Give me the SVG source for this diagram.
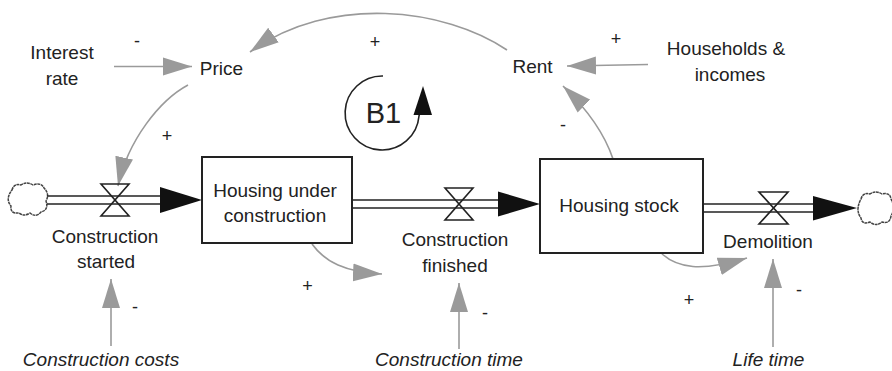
<svg xmlns="http://www.w3.org/2000/svg" width="892" height="371" viewBox="0 0 892 371">
<style>
text{font-family:"Liberation Sans",Arial,sans-serif;fill:#222;}
.lbl{font-size:19px;text-anchor:middle;}
.it{font-style:italic;}
.sign{font-size:18px;text-anchor:middle;}
.link{fill:none;stroke:#9a9a9a;stroke-width:1.6;marker-end:url(#ga);}
.stock{fill:#fff;stroke:#222;stroke-width:2;}
.pipe{fill:none;stroke:#222;stroke-width:1.6;}
.valve{fill:none;stroke:#222;stroke-width:1.6;stroke-linejoin:miter;}
.fhead{fill:#111;stroke:none;}
.cloud{fill:#fff;stroke:#444;stroke-width:1.5;stroke-dasharray:3 0.6;}
.loop{fill:none;stroke:#222;stroke-width:1.6;}
</style>
<defs>
<marker id="ga" markerUnits="userSpaceOnUse" markerWidth="30" markerHeight="20" refX="29" refY="10" orient="auto">
<path d="M0,1 L29,10 L0,19 Z" fill="#9a9a9a"/>
</marker>
</defs>
<rect width="892" height="371" fill="#fff"/>

<g id="connectors">
<path class="link" d="M114,66.5 L192,66.5"/>
<path class="link" d="M507,50 C445,8 330,-6 250,52"/>
<path class="link" d="M188,85 C160,100 128,140 118,186"/>
<path class="link" d="M111,346 L111,279"/>
<path class="link" d="M312,244 C325,262 345,272 382,274"/>
<path class="link" d="M459,349 L459,283"/>
<path class="link" d="M613,159 C605,135 590,112 563,86"/>
<path class="link" d="M648,64.5 L567,66"/>
<path class="link" d="M662,254 C678,268 700,272 747,258"/>
<path class="link" d="M773,347 L773,259"/>
<text class="sign" x="137" y="47">-</text>
<text class="sign" x="375" y="48">+</text>
<text class="sign" x="167" y="142">+</text>
<text class="sign" x="135" y="313">-</text>
<text class="sign" x="307.5" y="292">+</text>
<text class="sign" x="485" y="319">-</text>
<text class="sign" x="563" y="131">-</text>
<text class="sign" x="616" y="45">+</text>
<text class="sign" x="689" y="306">+</text>
<text class="sign" x="799" y="296">-</text>
</g>

<g id="flow-construction-started">
<path class="cloud" d="M12,190 Q14,183 21,185 Q27,181 33,185 Q41,182 44,188 Q50,194 46,201 Q49,210 41,212 Q36,218 30,213 Q24,217 19,213 Q10,214 11,206 Q5,199 12,190 Z"/>
<line class="pipe" x1="47" y1="196" x2="162" y2="196"/>
<line class="pipe" x1="47" y1="204" x2="162" y2="204"/>
<path class="valve" d="M101,184 L129,184 L101,216 L129,216 Z"/>
<polygon class="fhead" points="160,187 202,200 160,213"/>
<text class="lbl" x="105" y="243">Construction</text>
<text class="lbl" x="106" y="268">started</text>
</g>

<g id="stock-housing-under-construction">
<rect class="stock" x="202" y="157" width="150" height="86"/>
<text class="lbl" x="275" y="197">Housing under</text>
<text class="lbl" x="275" y="222">construction</text>
</g>

<g id="flow-construction-finished">
<line class="pipe" x1="353" y1="200" x2="500" y2="200"/>
<line class="pipe" x1="353" y1="208" x2="500" y2="208"/>
<path class="valve" d="M445,188 L473,188 L445,220 L473,220 Z"/>
<polygon class="fhead" points="498,191.5 540,204 498,216.5"/>
<text class="lbl" x="455" y="246">Construction</text>
<text class="lbl" x="455" y="272">finished</text>
</g>

<g id="stock-housing-stock">
<rect class="stock" x="540" y="159" width="163" height="94"/>
<text class="lbl" x="619" y="212">Housing stock</text>
</g>

<g id="flow-demolition">
<line class="pipe" x1="704" y1="204" x2="815" y2="204"/>
<line class="pipe" x1="704" y1="212" x2="815" y2="212"/>
<path class="valve" d="M759,192 L788,192 L759,224 L788,224 Z"/>
<polygon class="fhead" points="813,196 857,208 813,220.5"/>
<path class="cloud" d="M861,199 Q863,192 870,194 Q876,190 882,194 Q890,192 891,199 Q896,208 891,216 Q890,224 882,222 Q876,227 870,222 Q862,225 861,218 Q855,210 861,199 Z"/>
<text class="lbl" x="768" y="248">Demolition</text>
</g>

<g id="var-interest-rate">
<text class="lbl" x="62" y="59">Interest</text>
<text class="lbl" x="62" y="85">rate</text>
</g>
<g id="var-price">
<text class="lbl" x="221.5" y="75">Price</text>
</g>
<g id="var-rent">
<text class="lbl" x="532.5" y="73">Rent</text>
</g>
<g id="var-households-incomes">
<text class="lbl" x="726" y="55">Households &amp;</text>
<text class="lbl" x="730" y="81">incomes</text>
</g>
<g id="var-construction-costs">
<text class="lbl it" x="101" y="366">Construction costs</text>
</g>
<g id="var-construction-time">
<text class="lbl it" x="449" y="366">Construction time</text>
</g>
<g id="var-life-time">
<text class="lbl it" x="768.5" y="366">Life time</text>
</g>

<g id="loop-b1">
<path class="loop" d="M383,76 A37,37 0 1 0 419,116 Q421,110 422,104"/>
<polygon class="fhead" points="423,86 432,115 413.5,115"/>
<text x="383.5" y="123" style="font-size:29px;text-anchor:middle">B1</text>
</g>
</svg>
